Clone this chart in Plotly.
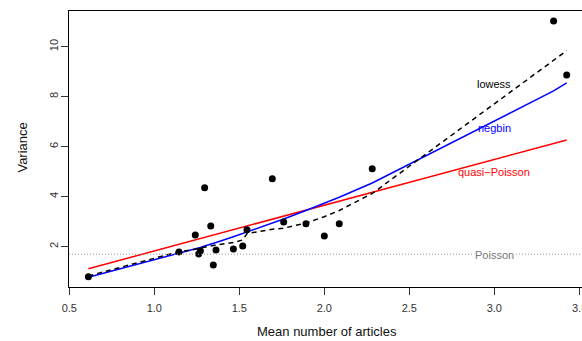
import plotly.graph_objects as go

# observed mean / variance pairs
mean_articles = [0.612, 1.145, 1.241, 1.261, 1.271, 1.296, 1.332, 1.347, 1.363, 1.465,
                 1.520, 1.545, 1.694, 1.761, 1.892, 2.000, 2.088, 2.282, 3.349, 3.426]
variance = [0.80, 1.79, 2.47, 1.71, 1.83, 4.36, 2.83, 1.27, 1.87, 1.91,
            2.03, 2.68, 4.72, 2.99, 2.92, 2.43, 2.92, 5.12, 11.03, 8.87]

# fitted variance curves, read at the sorted means
quasi_poisson = [1.12, 2.10, 2.27, 2.31, 2.33, 2.37, 2.44, 2.47, 2.49, 2.68,
                 2.78, 2.83, 3.10, 3.22, 3.46, 3.66, 3.82, 4.18, 6.13, 6.27]
negbin = [0.78, 1.72, 1.91, 1.95, 1.97, 2.03, 2.10, 2.14, 2.17, 2.40,
          2.53, 2.58, 2.94, 3.11, 3.45, 3.74, 3.98, 4.55, 8.23, 8.55]
lowess = [0.83, 1.80, 1.90, 1.93, 1.95, 1.98, 2.02, 2.05, 2.07, 2.17,
          2.27, 2.52, 2.70, 2.74, 2.95, 3.20, 3.45, 4.13, 9.45, 9.84]
poisson_level = 1.70

x_ticks = [0.5, 1.0, 1.5, 2.0, 2.5, 3.0, 3.5]
y_ticks = [2, 4, 6, 8, 10]

labels = ["lowess", "negbin", "quasi\u2212Poisson", "Poisson"]
label_y = [8.51, 6.74, 5.00, 1.66]
label_colors = ["black", "blue", "red", "#777777"]
label_x = 3.0

FONT = "Liberation Sans, Arial, Helvetica, sans-serif"

fig = go.Figure()
fig.add_hline(y=poisson_level, line=dict(color="#999999", width=1, dash="1px,2px"))
fig.add_trace(go.Scatter(x=mean_articles, y=quasi_poisson, mode="lines",
                         line=dict(color="red", width=1.5)))
fig.add_trace(go.Scatter(x=mean_articles, y=negbin, mode="lines",
                         line=dict(color="blue", width=1.5)))
fig.add_trace(go.Scatter(x=mean_articles, y=lowess, mode="lines",
                         line=dict(color="black", width=1.5, dash="5px,4px")))
fig.add_trace(go.Scatter(x=mean_articles, y=variance, mode="markers",
                         marker=dict(color="black", size=7)))

for t, yv, c in zip(labels, label_y, label_colors):
    fig.add_annotation(x=label_x, y=yv, text=t, showarrow=False,
                       font=dict(family=FONT, size=11, color=c),
                       bgcolor="white" if t == "Poisson" else "rgba(0,0,0,0)",
                       borderpad=0)

# last x tick label, cut by the right edge as in the original
fig.add_annotation(x=x_ticks[-1], xref="x", yref="paper", y=-0.076, text=f"{x_ticks[-1]:.1f}",
                   showarrow=False, font=dict(family=FONT, size=11, color="#333"),
                   xanchor="center", yanchor="middle")

fig.add_annotation(xref="paper", yref="paper", x=0.503, y=-0.163, text="Mean number of articles",
                   showarrow=False, font=dict(family=FONT, size=13, color="#111"),
                   xanchor="center", yanchor="middle")
fig.add_annotation(xref="paper", yref="paper", x=-0.0903, y=0.504, text="Variance",
                   showarrow=False, textangle=-90, font=dict(family=FONT, size=13, color="#111"),
                   xanchor="center", yanchor="middle")

fig.update_layout(
    width=582, height=341,
    margin=dict(l=69, r=0, t=11, b=54),
    paper_bgcolor="white", plot_bgcolor="white",
    showlegend=False,
    font=dict(family=FONT, size=11, color="#333"),
    xaxis=dict(range=[0.498, 3.516], tickvals=x_ticks, ticktext=[f"{v:.1f}" for v in x_ticks],
               showgrid=False, zeroline=False, showline=True, linecolor="black", linewidth=1,
               mirror=True, ticks="outside", ticklen=7, tickcolor="#333", tickwidth=1,
               ticklabelstandoff=4),
    yaxis=dict(range=[0.388, 11.428], tickvals=y_ticks, tickangle=-90,
               showgrid=False, zeroline=False, showline=True, linecolor="black", linewidth=1,
               mirror=False, ticks="outside", ticklen=7, tickcolor="#333", tickwidth=1,
               ticklabelstandoff=-1),
)

fig.write_html("out.html")
